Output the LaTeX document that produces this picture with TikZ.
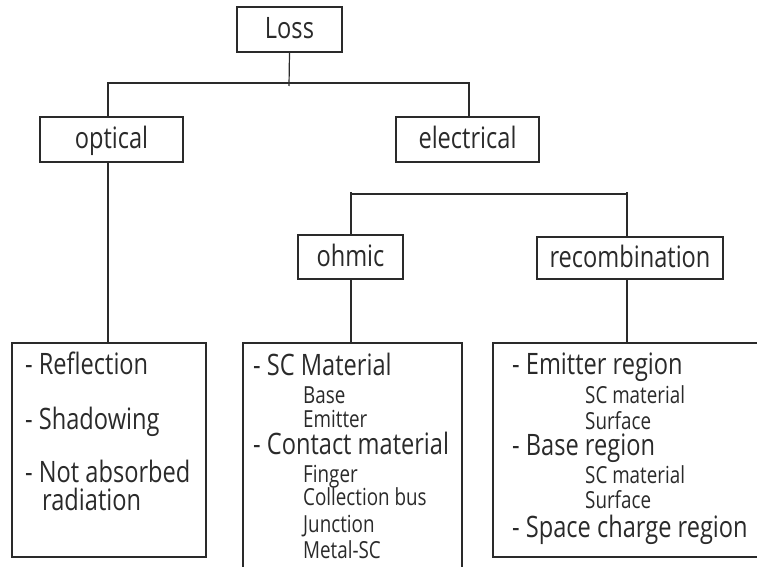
\documentclass[tikz,border=0pt]{standalone}
\usepackage{fontspec}
\setmainfont{Open Sans}[FakeStretch=0.8]
\definecolor{ink}{HTML}{2A2A2A}
\tikzset{
  x=1pt, y=-1pt,
  line/.style={draw=ink, line width=1.2pt},
  box/.style={line, inner sep=0pt, text=ink, font=\fontsize{29.5}{30}\selectfont,
              text height=21pt, text depth=3pt},
  big/.style={anchor=base west, inner sep=0pt, text=ink, font=\fontsize{29.5}{30}\selectfont},
  small/.style={anchor=base west, inner sep=0pt, text=ink, font=\fontsize{23.5}{24}\selectfont},
}
\begin{document}
\begin{tikzpicture}
\useasboundingbox (0,0) rectangle (757,567);
\clip (0,0) rectangle (757,567);
% header boxes
\node[box, minimum width=105, minimum height=45] (loss) at (289.5,29.5) {Loss};
\node[box, minimum width=143, minimum height=45] (optical) at (111.5,139.5) {optical};
\node[box, minimum width=143, minimum height=45] (electrical) at (467.5,139.5) {electrical};
\node[box, minimum width=105, minimum height=44] (ohmic) at (350.5,257) {ohmic};
\node[box, minimum width=186, minimum height=42] (recomb) at (630,258) {recombination};
% list boxes
\node[line, minimum width=194, minimum height=214, inner sep=0pt] (refl) at (109,450) {};
\node[line, minimum width=219, minimum height=240, inner sep=0pt] (ohmlist) at (352.5,463) {};
\node[line, minimum width=280, minimum height=214, inner sep=0pt] (reclist) at (633,450) {};
% connectors
\coordinate (j1) at (289,83);
\draw[line] (loss.south) -- ([yshift=-3pt]j1);
\draw[line] (optical.north -| 108,0) |- (j1);
\draw[line] (electrical.north -| 469,0) |- (j1);
\draw[line] (optical.south -| 108,0) -- (refl.north -| 108,0);
\coordinate (b1) at (351,194);
\coordinate (b2) at (627,194);
\draw[line] (b1) -- (b2);
\draw[line] ([yshift=2pt]b1) -- (ohmic.north -| b1);
\draw[line] ([yshift=2pt]b2) -- (recomb.north -| b2);
\draw[line] (ohmic.south -| b1) -- (ohmlist.north -| b1);
\draw[line] (recomb.south -| b2) -- (reclist.north -| b2);
% optical list
\node[big] (t1) at (25,374) {- Reflection};
\node[big] (t2) at (25,429) {- Shadowing};
\node[big] (t3) at (25,482) {- Not absorbed};
\node[big] (t4) at (42,510) {radiation};
% ohmic list
\node[big] (o1) at (253,375) {- SC Material};
\node[small] (o2) at (303,403) {Base};
\node[small] (o3) at (303,427) {Emitter};
\node[big] (o4) at (253,454) {- Contact material};
\node[small] (o5) at (303,482) {Finger};
\node[small] (o6) at (303,505) {Collection bus};
\node[small] (o7) at (303,532) {Junction};
\node[small] (o8) at (303,558) {Metal-SC};
% recombination list
\node[big] (r1) at (512,374) {- Emitter region};
\node[small] (r2) at (585,403) {SC material};
\node[small] (r3) at (585,429) {Surface};
\node[big] (r4) at (512,455) {- Base region};
\node[small] (r5) at (585,483) {SC material};
\node[small] (r6) at (585,508) {Surface};
\node[big] (r7) at (512,537) {- Space charge region};
\end{tikzpicture}
\end{document}
